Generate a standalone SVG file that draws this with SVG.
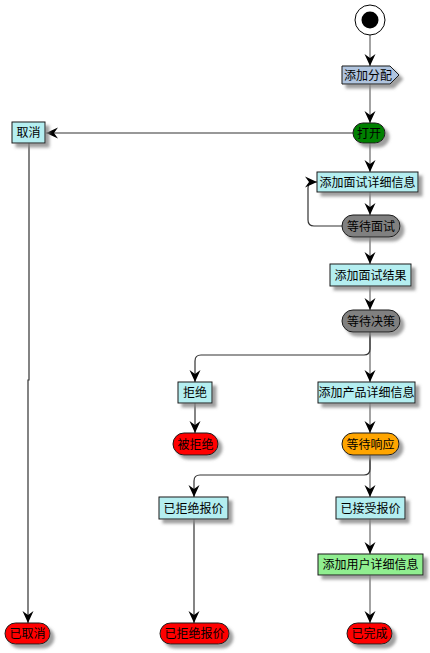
<svg xmlns="http://www.w3.org/2000/svg" width="430" height="653" viewBox="0 0 430 653">
<style>
.n{stroke:#1a1a1a;stroke-width:1;filter:url(#sh)}
.box{fill:#B4EEF0}
.t{font-family:"Noto Sans CJK SC","Liberation Sans",sans-serif;font-size:12px;fill:#000;text-anchor:middle}
.c{fill:none;stroke:#333;stroke-width:1.2;marker-end:url(#ah)}
.g{stroke:#666}
</style>
<defs>
<filter id="sh" x="-20%" y="-30%" width="150%" height="180%">
<feDropShadow dx="4" dy="4" stdDeviation="1.5" flood-color="#888" flood-opacity="0.8"/>
</filter>
<marker id="ah" markerWidth="12" markerHeight="12" viewBox="0 0 12 11" refX="12" refY="5.5" orient="auto" markerUnits="userSpaceOnUse">
<path d="M0,0 L12,5.5 L0,11 L4,5.5 Z" fill="#000"/>
</marker>
</defs>
<g id="connectors">
<path class="c g" d="M370,35 V66"/>
<path class="c g" d="M370,84 V123"/>
<path class="c" d="M353,133 H46"/>
<path class="c g" d="M370,143 V172"/>
<path class="c g" d="M370,192 V215"/>
<path class="c" d="M342,226 H314 Q308,226 308,220 V188 Q308,182 314,182 H317"/>
<path class="c g" d="M370,237 V264"/>
<path class="c g" d="M370,286 V310"/>
<path class="c g" d="M370,332 V382"/>
<path class="c" d="M370,332 V349 Q370,355 364,355 H201 Q195,355 195,361 V382"/>
<path class="c" d="M195,403 V433"/>
<path class="c g" d="M370,403 V433"/>
<path class="c g" d="M370,455 V497"/>
<path class="c" d="M370,455 V469 Q370,475 364,475 H200 Q194,475 194,481 V497"/>
<path class="c g" d="M370,519 V554"/>
<path class="c g" d="M370,575 V623"/>
<path class="c" d="M194,519 V623"/>
<path class="c" d="M29,143 V380 H28 V623"/>
</g>
<g id="start">
<circle cx="370" cy="20" r="15" fill="#fff" stroke="#000"/>
<circle cx="370" cy="20" r="8.5" fill="#000"/>
</g>
<g id="assign">
<polygon class="n" points="342,66 390,66 399,75 390,84 342,84" fill="#B0C4DE"/>
<text class="t" x="368" y="80">添加分配</text>
</g>
<g id="open">
<rect class="n" x="353" y="123" width="32" height="20" rx="10" fill="#008000"/>
<text class="t" x="369" y="137.5">打开</text>
</g>
<g id="cancel">
<rect class="n box" x="12" y="122" width="33" height="21"/>
<text class="t" x="28.5" y="137">取消</text>
</g>
<g id="addInterviewDetails">
<rect class="n box" x="317" y="172" width="101" height="20"/>
<text class="t" x="367.5" y="186.5">添加面试详细信息</text>
</g>
<g id="waitInterview">
<rect class="n" x="342" y="215" width="58" height="22" rx="11" fill="#808080"/>
<text class="t" x="371" y="230.5">等待面试</text>
</g>
<g id="addInterviewResult">
<rect class="n box" x="330" y="264" width="81" height="22"/>
<text class="t" x="370.5" y="279.5">添加面试结果</text>
</g>
<g id="waitDecision">
<rect class="n" x="342" y="310" width="58" height="22" rx="11" fill="#808080"/>
<text class="t" x="371" y="325.5">等待决策</text>
</g>
<g id="reject">
<rect class="n box" x="178" y="382" width="34" height="21"/>
<text class="t" x="195" y="397">拒绝</text>
</g>
<g id="addProductDetails">
<rect class="n box" x="318" y="382" width="97" height="21"/>
<text class="t" x="366.5" y="397">添加产品详细信息</text>
</g>
<g id="rejected">
<rect class="n" x="173" y="433" width="45" height="22" rx="11" fill="#FF0000"/>
<text class="t" x="195.5" y="448.5">被拒绝</text>
</g>
<g id="waitResponse">
<rect class="n" x="342" y="433" width="57" height="22" rx="11" fill="#FFA500"/>
<text class="t" x="370.5" y="448.5">等待响应</text>
</g>
<g id="offerRejected">
<rect class="n box" x="159" y="497" width="69" height="22"/>
<text class="t" x="193.5" y="512.5">已拒绝报价</text>
</g>
<g id="offerAccepted">
<rect class="n box" x="336" y="497" width="69" height="22"/>
<text class="t" x="370.5" y="512.5">已接受报价</text>
</g>
<g id="addUserDetails">
<rect class="n" x="318" y="554" width="105" height="21" fill="#90EE90"/>
<text class="t" x="370.5" y="569">添加用户详细信息</text>
</g>
<g id="cancelled">
<rect class="n" x="5" y="623" width="45" height="21" rx="10.5" fill="#FF0000"/>
<text class="t" x="27.5" y="638">已取消</text>
</g>
<g id="offerRejectedEnd">
<rect class="n" x="160" y="623" width="69" height="21" rx="10.5" fill="#FF0000"/>
<text class="t" x="194.5" y="638">已拒绝报价</text>
</g>
<g id="completed">
<rect class="n" x="347" y="623" width="45" height="21" rx="10.5" fill="#FF0000"/>
<text class="t" x="369.5" y="638">已完成</text>
</g>
</svg>
